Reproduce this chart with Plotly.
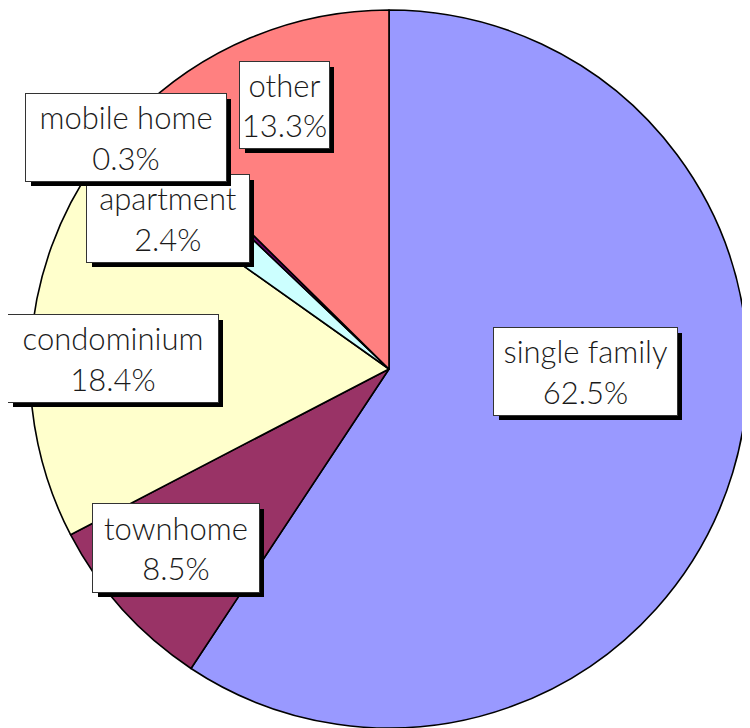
import plotly.graph_objects as go

# ---- data ----
categories = ["single family", "townhome", "condominium", "apartment", "mobile home", "other"]
percent_values = [62.5, 8.5, 18.4, 2.4, 0.3, 13.3]
slice_colors = ["#9999FF", "#993366", "#FFFFCC", "#CCFFFF", "#660066", "#FF8080"]

W, H = 750, 728
OFF = 8  # page body margin compensation (pixels)

# pie placement (pixels in the screenshot): centre and radius
cx, cy, r = 389 - OFF, 369 - OFF, 359

fig = go.Figure(go.Pie(
    labels=categories,
    values=percent_values,
    marker=dict(colors=slice_colors, line=dict(color="black", width=1.6)),
    sort=False,
    direction="clockwise",
    rotation=0,
    textinfo="none",
    hoverinfo="label+value",
    showlegend=False,
    domain=dict(x=[(cx - r) / W, (cx + r) / W],
                y=[(H - (cy + r)) / H, (H - (cy - r)) / H]),
))

# label boxes (pixel boxes in the screenshot: left, top, right, bottom)
label_boxes = {
    "single family": (494, 328, 677, 415),
    "townhome": (93, 504, 259, 592),
    "condominium": (8, 315, 218, 402),
    "apartment": (87, 175, 249, 262),
    "mobile home": (26, 94, 226, 181),
    "other": (240, 62, 329, 148),
}
font = dict(family="Lato, 'Open Sans', sans-serif", size=31, color="#1a1a1a", weight=300)
shadow = 5
annotations = []
for name, val in zip(categories, percent_values):
    x0, y0, x1, y1 = label_boxes[name]
    x0, x1, y0, y1 = x0 - OFF, x1 - OFF, y0 - OFF, y1 - OFF
    bw, bh = x1 - x0, y1 - y0
    xc, yc = (x0 + x1) / 2, (y0 + y1) / 2
    # shadow
    annotations.append(dict(
        x=(xc + shadow) / W, y=1 - (yc + shadow) / H, xref="paper", yref="paper",
        xanchor="center", yanchor="middle", text=" ", showarrow=False,
        width=bw, height=bh, bgcolor="black", borderpad=0, borderwidth=0,
    ))
    annotations.append(dict(
        x=xc / W, y=1 - yc / H, xref="paper", yref="paper",
        xanchor="center", yanchor="middle",
        text=f"{name}<br>{val:.1f}%", showarrow=False, font=font,
        width=bw, height=bh, bgcolor="white", bordercolor="#333333",
        borderwidth=1, borderpad=0, align="center",
    ))

fig.update_layout(
    width=W, height=H,
    margin=dict(l=0, r=0, t=0, b=0),
    paper_bgcolor="white", plot_bgcolor="white",
    annotations=annotations,
)

fig.write_html("out.html")
